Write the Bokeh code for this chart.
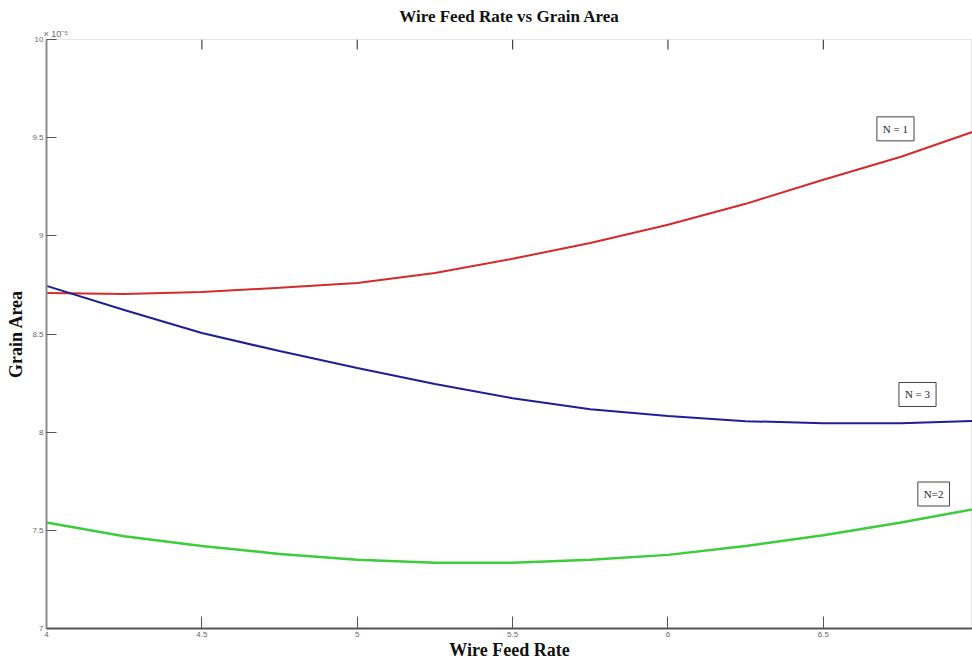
import math
from bokeh.plotting import figure
from bokeh.models import LinearAxis, FixedTicker, Range1d, Label, Title
from bokeh.embed import file_html
from bokeh.resources import INLINE

feed_rate = [4.0, 4.25, 4.5, 4.75, 5.0, 5.25, 5.5, 5.75, 6.0, 6.25, 6.5, 6.75, 7.0]
area_n1 = [8.709, 8.704, 8.714, 8.735, 8.760, 8.811, 8.883, 8.964, 9.056, 9.163, 9.286, 9.403, 9.540]
area_n3 = [8.745, 8.622, 8.505, 8.413, 8.327, 8.245, 8.173, 8.117, 8.082, 8.056, 8.046, 8.046, 8.058]
area_n2 = [7.540, 7.470, 7.420, 7.380, 7.350, 7.335, 7.335, 7.350, 7.375, 7.420, 7.475, 7.540, 7.612]

x_ticks = [4, 4.5, 5, 5.5, 6, 6.5, 7]
x_tick_labels = ["4", "4.5", "5", "5.5", "6", "6.5", "7"]
y_ticks = [7, 7.5, 8, 8.5, 9, 9.5, 10]
y_tick_labels = ["7", "7.5", "8", "8.5", "9", "9.5", "10"]
y_top = 10

series_labels = ["N = 1", "N = 3", "N=2"]
label_pos_x = [6.732, 6.803, 6.855]
label_pos_y = [9.545, 8.192, 7.685]

SERIF = "Liberation Serif"

p = figure(width=972, height=668, output_backend="svg", toolbar_location=None,
           x_range=Range1d(4, 6.98), y_range=Range1d(7, 10),
           min_border_left=46, min_border_right=0, min_border_top=39, min_border_bottom=40,
           x_axis_location=None, y_axis_location=None)

p.title.text = "Wire Feed Rate vs Grain Area"
p.title.align = "center"
p.title.text_font = SERIF
p.title.text_font_size = "17px"
p.title.text_font_style = "bold"
p.title.text_color = "#111111"
p.title.offset = 0
p.title.standoff = 2

p.add_layout(Title(text="× 10⁻⁵", align="left", text_font_size="9px",
                   text_font_style="normal", text_color="#666666",
                   offset=-3, standoff=1), "above")

p.xgrid.visible = False
p.ygrid.visible = False
p.outline_line_color = "#e6e6e6"
p.background_fill_color = "white"

xb = LinearAxis(ticker=FixedTicker(ticks=x_ticks),
                major_label_overrides={t: l for t, l in zip(x_ticks, x_tick_labels)})
xb.axis_label = "Wire Feed Rate"
xb.axis_label_text_font = SERIF
xb.axis_label_text_font_size = "18px"
xb.axis_label_text_font_style = "bold"
xb.axis_label_text_color = "#111111"
xb.axis_label_standoff = 0
xb.major_label_text_font_size = "8px"
xb.major_label_text_color = "#666666"
xb.major_label_standoff = 3
xb.axis_line_color = "#555555"
xb.axis_line_width = 2
xb.major_tick_in = 12
xb.major_tick_out = 0
xb.major_tick_line_color = "#555555"
xb.minor_tick_line_color = None
p.add_layout(xb, "below")

yl = LinearAxis(ticker=FixedTicker(ticks=y_ticks),
                major_label_overrides={t: l for t, l in zip(y_ticks, y_tick_labels)})
yl.axis_label = "Grain Area"
yl.axis_label_text_font = SERIF
yl.axis_label_text_font_size = "18px"
yl.axis_label_text_font_style = "bold"
yl.axis_label_text_color = "#111111"
yl.axis_label_standoff = 3
yl.major_label_text_font_size = "8px"
yl.major_label_text_color = "#666666"
yl.major_label_standoff = 3
yl.axis_line_color = "#8c8c8c"
yl.axis_line_width = 2
yl.major_tick_in = 10
yl.major_tick_out = 0
yl.major_tick_line_color = "#555555"
yl.minor_tick_line_color = None
p.add_layout(yl, "left")

# inward ticks along the top edge of the frame
p.ray(x=x_ticks[1:], y=[y_top] * (len(x_ticks) - 1), length=10, length_units="screen",
      angle=-math.pi / 2, line_color="#444444", line_width=1.2)

p.line(feed_rate, area_n1, line_color="#d42a2a", line_width=2)
p.line(feed_rate, area_n3, line_color="#1e1e96", line_width=2)
p.line(feed_rate, area_n2, line_color="#3ccc3c", line_width=2.5)

for txt, lx, ly in zip(series_labels, label_pos_x, label_pos_y):
    p.add_layout(Label(x=lx, y=ly, text=txt, text_align="center", text_baseline="middle",
                       text_font=SERIF, text_font_size="11px", text_color="#222222",
                       border_line_color="#444444", border_line_width=1,
                       background_fill_color="white", padding=6))

open("out.html", "w").write(file_html(p, INLINE))
